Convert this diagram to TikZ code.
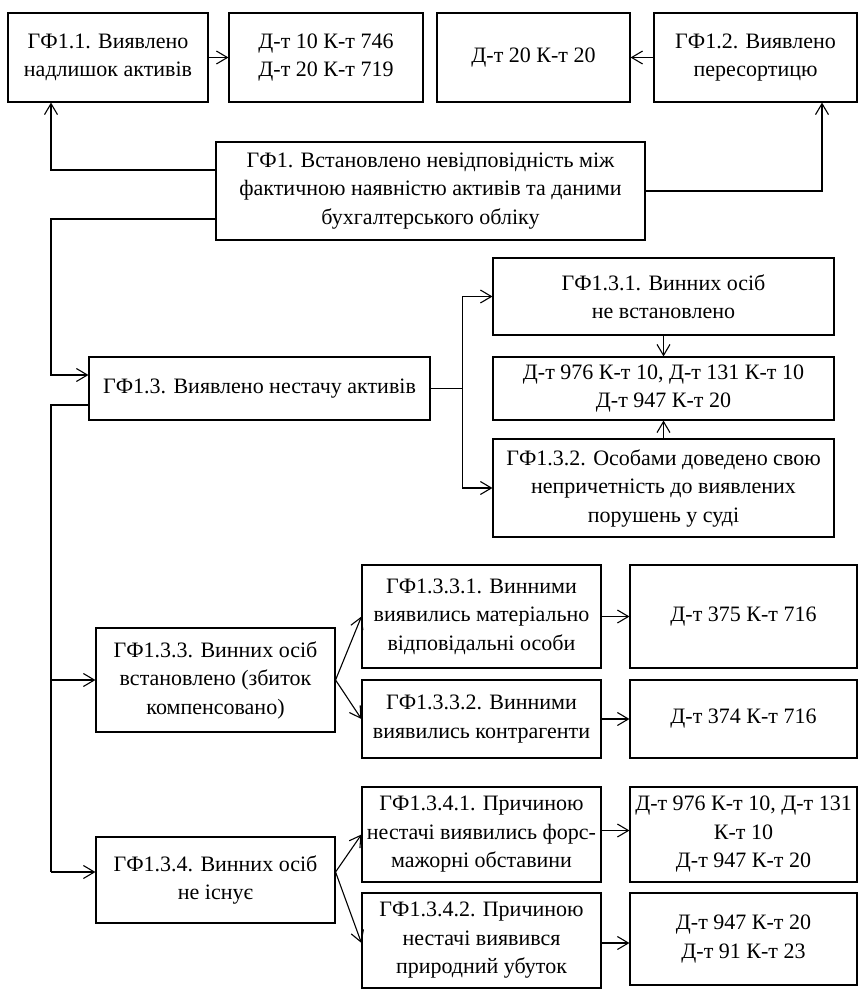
\documentclass[tikz,border=0pt]{standalone}
\usepackage{fontspec}
\setmainfont{Liberation Serif}
\usepackage{tikz}
\usetikzlibrary{arrows.meta}
\tikzset{>/.tip={Straight Barb[length=11pt,width=13pt]},
  box/.style={draw, line width=1.1pt, align=center, inner sep=0pt,
    font=\fontsize{22}{28.5}\selectfont},
  conn/.style={line width=1.1pt}}

\begin{document}
\begin{tikzpicture}[x=1pt,y=-1pt]
\useasboundingbox (0,0) rectangle (859,990);

\node[box, minimum width=200pt, minimum height=89pt] (G11) at (108,57.5) {ГФ1.1. Виявлено\\надлишок активів};
\node[box, minimum width=194pt, minimum height=89pt] (G11-t) at (326,57.5) {Д-т 10 К-т 746\\Д-т 20 К-т 719};
\node[box, minimum width=193pt, minimum height=89pt] (G12-t) at (533.5,57.5) {Д-т 20 К-т 20};
\node[box, minimum width=203pt, minimum height=89pt] (G12) at (755.5,57.5) {ГФ1.2. Виявлено\\пересортицю};

\node[box, minimum width=429pt, minimum height=98pt] (G1) at (430.5,191) {ГФ1. Встановлено невідповідність між\\фактичною наявністю активів та даними\\бухгалтерського обліку};

\node[box, minimum width=341pt, minimum height=63pt] (G13) at (259.5,388.5) {ГФ1.3. Виявлено нестачу активів};
\node[box, minimum width=341pt, minimum height=77pt] (G131) at (663.5,296.5) {ГФ1.3.1. Винних осіб\\не встановлено};
\node[box, minimum width=341pt, minimum height=63pt] (G13-t) at (663.5,388.5) {Д-т 976 К-т 10, Д-т 131 К-т 10\\Д-т 947 К-т 20};
\node[box, minimum width=341pt, minimum height=98pt] (G132) at (663.5,488) {ГФ1.3.2. Особами доведено свою\\непричетність до виявлених\\порушень у суді};

\node[box, minimum width=239pt, minimum height=104pt] (G133) at (215.5,680) {ГФ1.3.3. Винних осіб\\встановлено (збиток\\компенсовано)};
\node[box, minimum width=239pt, minimum height=103pt] (G1331) at (481.5,616.5) {ГФ1.3.3.1. Винними\\виявились матеріально\\відповідальні особи};
\node[box, minimum width=239pt, minimum height=78pt] (G1332) at (481.5,719) {ГФ1.3.3.2. Винними\\виявились контрагенти};
\node[box, minimum width=227pt, minimum height=103pt] (G1331-t) at (743.5,616.5) {Д-т 375 К-т 716};
\node[box, minimum width=227pt, minimum height=78pt] (G1332-t) at (743.5,719) {Д-т 374 К-т 716};

\node[box, minimum width=239pt, minimum height=86pt] (G134) at (215.5,880) {ГФ1.3.4. Винних осіб\\не існує};
\node[box, minimum width=239pt, minimum height=95pt] (G1341) at (481.5,834.5) {ГФ1.3.4.1. Причиною\\нестачі виявились форс-\\мажорні обставини};
\node[box, minimum width=239pt, minimum height=95pt] (G1342) at (481.5,940.5) {ГФ1.3.4.2. Причиною\\нестачі виявився\\природний убуток};
\node[box, minimum width=227pt, minimum height=95pt] (G1341-t) at (743.5,834.5) {Д-т 976 К-т 10, Д-т 131\\К-т 10\\Д-т 947 К-т 20};
\node[box, minimum width=227pt, minimum height=92pt] (G1342-t) at (743.5,939) {Д-т 947 К-т 20\\Д-т 91 К-т 23};

\coordinate (trunk-top) at (51,405);
\coordinate (trunk-mid) at (51,680);
\coordinate (trunk-end) at (51,872);

\path[conn,->] (G11) edge (G11-t);
\path[conn,->] (G12) edge (G12-t);
\draw[conn,->] ([yshift=21pt]G1.west) -| ([xshift=-57pt]G11.south);
\draw[conn,->] (G1.east) -| ([xshift=66.5pt]G12.south);
\draw[conn,->] ([yshift=-28pt]G1.west) -| (51,300) |- ([yshift=13.5pt]G13.west);

\draw[conn] ([yshift=-16.5pt]G13.west) -- (trunk-top) -- (trunk-end);
\draw[conn,->] (trunk-mid) -- (G133.west);
\draw[conn,->] (trunk-end) -- ([yshift=8pt]G134.west);

\draw[conn,->] (G13.east) -- ++(32,0) |- (G131.west);
\draw[conn,->] (G13.east) -- ++(32,0) |- (G132.west);
\path[conn,->] (G131) edge (G13-t);
\path[conn,->] (G132) edge (G13-t);

\path[conn,->] (G133.east) edge (G1331.west);
\path[conn,->] (G133.east) edge (G1332.west);
\path[conn,->] (G1331) edge (G1331-t);
\path[conn,->] (G1332) edge (G1332-t);

\path[conn,->] ([yshift=8pt]G134.east) edge (G1341.west);
\path[conn,->] ([yshift=8pt]G134.east) edge ([yshift=-2.5pt]G1342.west);
\path[conn,->] ([yshift=4pt]G1341.east) edge ([yshift=4pt]G1341-t.west);
\path[conn,->] ([yshift=-2.5pt]G1342.east) edge ([yshift=-4pt]G1342-t.west);
\end{tikzpicture}
\end{document}
